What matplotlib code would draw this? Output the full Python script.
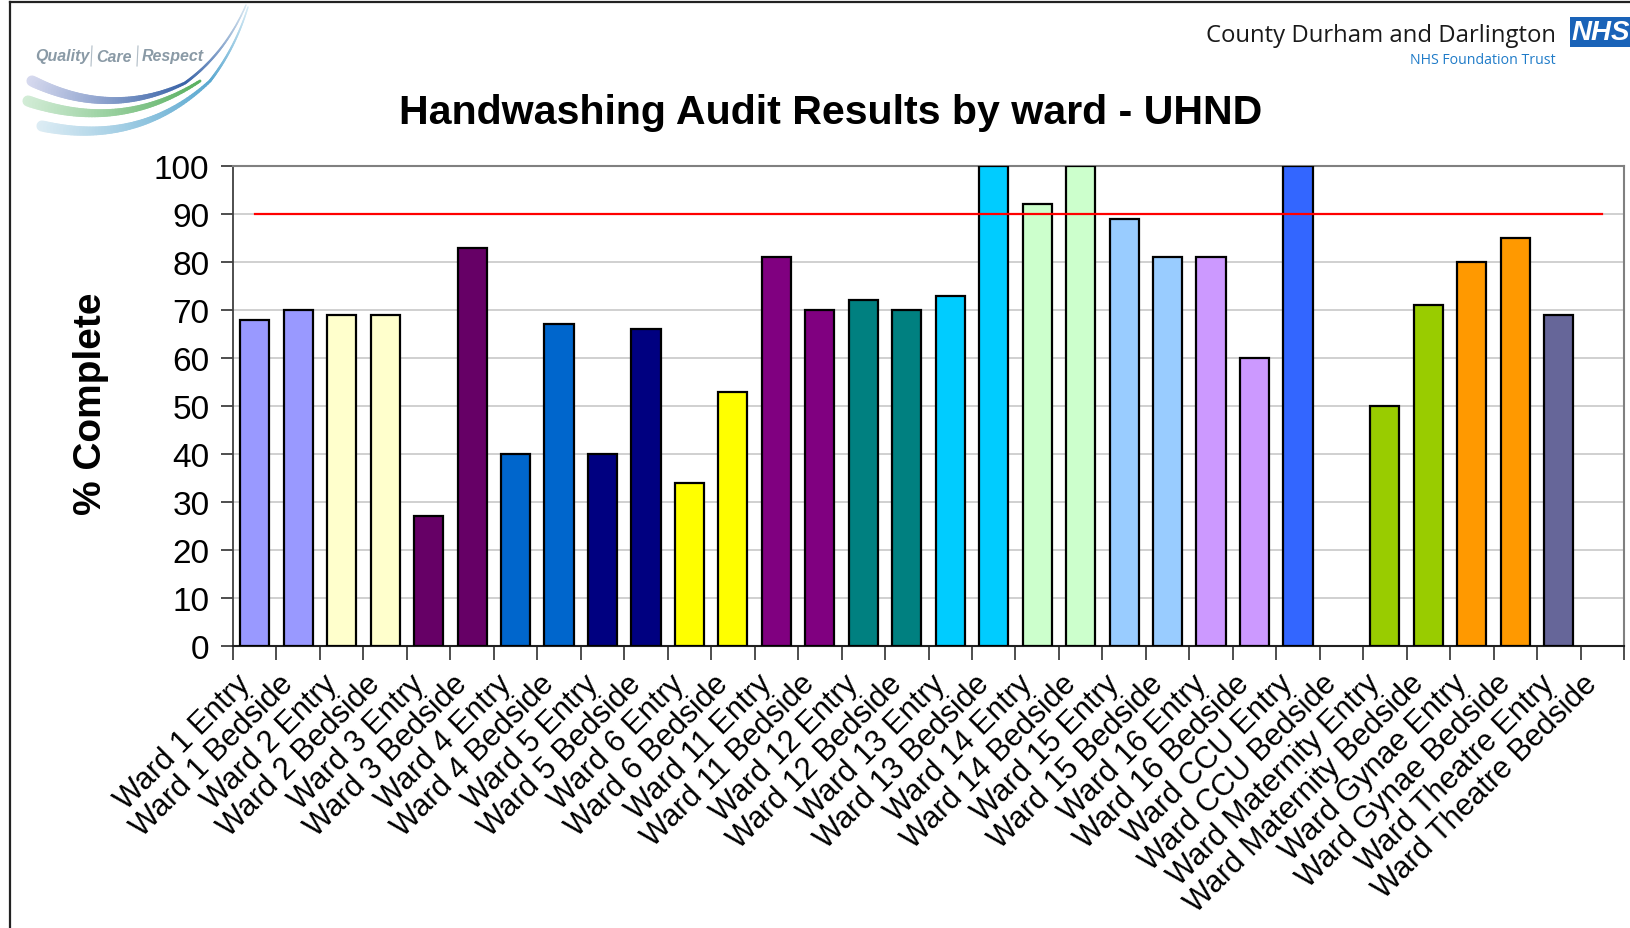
import numpy as np
import matplotlib
matplotlib.use("Agg")
import matplotlib.pyplot as plt
from matplotlib.patches import Rectangle
from matplotlib.collections import LineCollection
import matplotlib.colors as mcolors
import matplotlib.transforms as mtransforms

plt.rcParams['font.family'] = ['Liberation Sans', 'DejaVu Sans']

# ---------------- data ----------------
categories = [
    "Ward 1 Entry", "Ward 1 Bedside", "Ward 2 Entry", "Ward 2 Bedside",
    "Ward 3 Entry", "Ward 3 Bedside", "Ward 4 Entry", "Ward 4 Bedside",
    "Ward 5 Entry", "Ward 5 Bedside", "Ward 6 Entry", "Ward 6 Bedside",
    "Ward 11 Entry", "Ward 11 Bedside", "Ward 12 Entry", "Ward 12 Bedside",
    "Ward 13 Entry", "Ward 13 Bedside", "Ward 14 Entry", "Ward 14 Bedside",
    "Ward 15 Entry", "Ward 15 Bedside", "Ward 16 Entry", "Ward 16 Bedside",
    "Ward CCU Entry", "Ward CCU Bedside", "Ward Maternity Entry", "Ward Maternity Bedside",
    "Ward Gynae Entry", "Ward Gynae Bedside", "Ward Theatre Entry", "Ward Theatre Bedside",
]
values = [68, 70, 69, 69, 27, 83, 40, 67, 40, 66, 34, 53,
          81, 70, 72, 70, 73, 100, 92, 100, 89, 81, 81, 60,
          100, None, 50, 71, 80, 85, 69, None]
ward_colors = ["#9999FF", "#FFFFCC", "#660066", "#0066CC", "#000080", "#FFFF00",
               "#800080", "#008080", "#00CCFF", "#CCFFCC", "#99CCFF", "#CC99FF",
               "#3366FF", "#99CC00", "#FF9900", "#666699"]
target = 90
yticks = list(range(0, 101, 10))

title = "Handwashing Audit Results by ward - UHND"
ylabel = "% Complete"

# ---------------- figure ----------------
W, H = 1630, 929
fig = plt.figure(figsize=(W / 100, H / 100), dpi=100)

def fx(px):
    return px / W

def fy(py):
    return 1 - py / H

ax = fig.add_axes([fx(233), fy(647), fx(1624) - fx(233), fy(167) - fy(647)])

bar_colors = [c for c in ward_colors for _ in range(2)]
x = np.arange(len(categories))
idx = [i for i, v in enumerate(values) if v is not None]
ax.bar([x[i] for i in idx], [values[i] for i in idx], width=0.67,
       color=[bar_colors[i] for i in idx], edgecolor="black", linewidth=1.6, zorder=3)

ax.plot([x[0], x[-1]], [target, target], color="#FF0000", linewidth=1.6, zorder=4)

ax.set_xlim(-0.5, len(categories) - 0.5)
ax.set_ylim(0, 100)
ax.set_yticks(yticks)
ax.set_yticklabels([str(t) for t in yticks], fontsize=24)
ax.yaxis.grid(True, color="#C8C8C8", linewidth=1.2, zorder=0)
ax.set_axisbelow(True)

ax.set_xticks(x)
ax.set_xticklabels(categories, rotation=45, ha="right", va="top",
                   rotation_mode="anchor", fontsize=22)
ax.tick_params(axis="x", which="major", length=0, pad=16)
shift = mtransforms.ScaledTranslation(-20 / 100, 0, fig.dpi_scale_trans)
for lbl in ax.get_xticklabels():
    lbl.set_transform(lbl.get_transform() + shift)
ax.set_xticks(np.arange(-0.5, len(categories) + 0.5, 1), minor=True)
ax.tick_params(axis="x", which="minor", length=10, width=1.3, color="#404040")
ax.tick_params(axis="y", length=9, width=1.3, color="#404040", pad=8)

for s in ["top", "right"]:
    ax.spines[s].set_color("#808080")
    ax.spines[s].set_linewidth(1.5)
ax.spines["left"].set_color("#404040")
ax.spines["left"].set_linewidth(1.3)
ax.spines["bottom"].set_color("#202020")
ax.spines["bottom"].set_linewidth(1.5)

# title and y label
fig.text(fx(831), fy(113), title, fontsize=29.6, fontweight="bold",
         ha="center", va="center")
fig.text(fx(91), fy(404), ylabel, fontsize=28, fontweight="bold",
         ha="center", va="center", rotation=90)

# frame lines (top and left)
fig.add_artist(plt.Line2D([fx(10), 1], [fy(3), fy(3)], color="#222222", linewidth=1.6))
fig.add_artist(plt.Line2D([fx(10), fx(10)], [0, fy(3)], color="#222222", linewidth=1.6))

# right logo
fig.text(fx(1556), fy(36), "County Durham and Darlington", fontsize=17.2,
         family=["Open Sans", "DejaVu Sans"], ha="right", va="center", color="#1a1a1a")
fig.text(fx(1556), fy(61), "NHS Foundation Trust", fontsize=10.2,
         family=["Open Sans", "DejaVu Sans"], ha="right", va="center", color="#1f7bc8")
fig.add_artist(Rectangle((fx(1570), fy(48)), fx(70), fy(18) - fy(48),
                         transform=fig.transFigure, facecolor="#1a63b8", edgecolor="none"))
fig.text(fx(1572), fy(33), "NHS", fontsize=20, fontweight="bold", style="italic",
         ha="left", va="center", color="white")

# left logo
fig.text(fx(35), fy(57), "Quality", fontsize=11.5, fontweight="bold", style="italic",
         color="#8a9aa6", ha="left", va="center")
fig.text(fx(96), fy(57), "Care", fontsize=11.5, fontweight="bold", style="italic",
         color="#8a9aa6", ha="left", va="center")
fig.text(fx(142), fy(57), "Respect", fontsize=11.5, fontweight="bold", style="italic",
         color="#8a9aa6", ha="left", va="center")
for xs in (92, 138):
    fig.add_artist(plt.Line2D([fx(xs), fx(xs - 1)], [fy(47), fy(67)], color="#b0bcc6", linewidth=0.8))


def swoosh(p0, p1, p2, c0, c1, w0, w1, n=60):
    t = np.linspace(0, 1, n)
    pts = np.array([(1 - tt) ** 2 * np.array(p0) + 2 * (1 - tt) * tt * np.array(p1) + tt ** 2 * np.array(p2) for tt in t])
    pts_f = np.column_stack([pts[:, 0] / W, 1 - pts[:, 1] / H])
    segs = np.stack([pts_f[:-1], pts_f[1:]], axis=1)
    ca, cb = np.array(mcolors.to_rgb(c0)), np.array(mcolors.to_rgb(c1))
    cols = [tuple(ca + (cb - ca) * tt) for tt in t[:-1]]
    lws = w0 + (w1 - w0) * t[:-1]
    lc = LineCollection(segs, colors=cols, linewidths=lws, transform=fig.transFigure,
                        capstyle="round")
    fig.add_artist(lc)

swoosh((32, 82), (110, 120), (185, 84), "#d6d9ee", "#3a64a8", 8, 2)
swoosh((185, 84), (225, 55), (246, 6), "#3a64a8", "#d8e8f2", 2, 1)
swoosh((28, 102), (120, 134), (200, 82), "#d2ecd6", "#58b060", 8, 2)
swoosh((42, 127), (140, 148), (210, 82), "#dcecf4", "#5aa8d0", 8, 2)
swoosh((210, 82), (235, 50), (248, 8), "#5aa8d0", "#d8ecf6", 2, 1)

fig.savefig("out.png", dpi=100)
